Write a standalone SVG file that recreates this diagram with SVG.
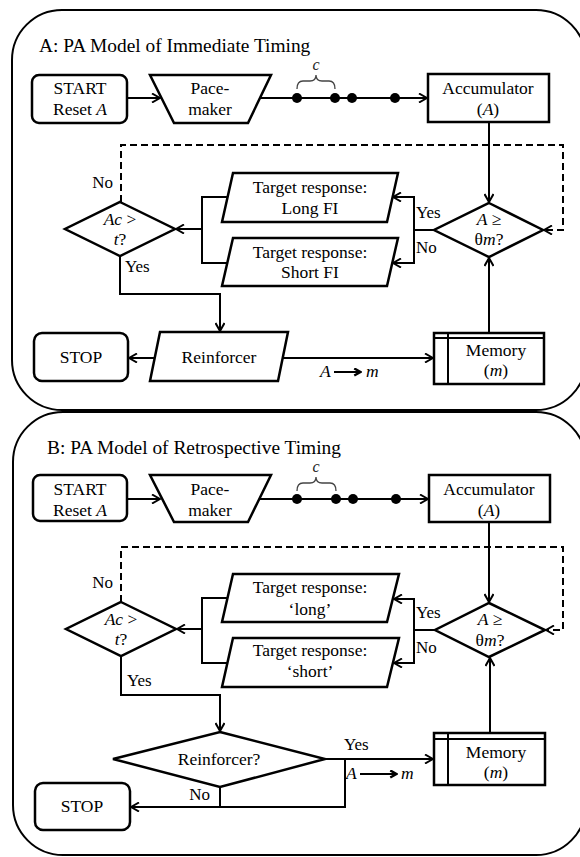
<svg xmlns="http://www.w3.org/2000/svg" width="580" height="857" viewBox="0 0 580 857" font-family="Liberation Serif, DejaVu Serif, Noto Serif, serif">
<defs>
<style>
text{font-size:17.5px;fill:#000;text-anchor:middle}
.title{font-size:19.4px;text-anchor:start}
.lbl{font-size:17px}
.st{text-anchor:start}
.en{text-anchor:end}
.i{font-style:italic}
.sym{font-style:italic;font-size:16px;fill:#222}
.shape{fill:#fff;stroke:#000;stroke-width:2.5}
.panel{fill:none;stroke:#000;stroke-width:2}
.wire{fill:none;stroke:#000;stroke-width:2}
.dash{fill:none;stroke:#000;stroke-width:2;stroke-dasharray:7 4}
.brace{fill:none;stroke:#444;stroke-width:1.3}
.dot{fill:#000}
</style>
<marker id="arr" viewBox="0 0 10 10" refX="9" refY="5" markerWidth="10" markerHeight="10" markerUnits="userSpaceOnUse" orient="auto">
<path d="M1,0.5 L9,5 L1,9.5" fill="none" stroke="#000" stroke-width="2"/>
</marker>
<marker id="arrb" viewBox="0 0 10 10" refX="9" refY="5" markerWidth="9" markerHeight="9" markerUnits="userSpaceOnUse" orient="auto">
<path d="M1.5,1 L8.5,5 L1.5,9" fill="none" stroke="#000" stroke-width="2.6"/>
</marker>
</defs>

<!-- ===== Panel A ===== -->
<rect id="panelA" class="panel" x="12" y="10" width="574" height="400" rx="50"/>
<text class="title" x="39" y="52">A: PA Model of Immediate Timing</text>

<g id="connectorsA">
<path class="wire" d="M127,98 H160" marker-end="url(#arr)"/>
<path class="wire" d="M260,98 H427" marker-end="url(#arr)"/>
<path class="wire" d="M489,122 V202" marker-end="url(#arr)"/>
<path class="dash" d="M121,202 V145 H563 V230 H544" marker-end="url(#arr)"/>
<path class="wire" d="M434,230 H414 V197 H393" marker-end="url(#arr)"/>
<path class="wire" d="M414,230 V263 H393" marker-end="url(#arr)"/>
<path class="wire" d="M228,197 H202 V263 H228"/>
<path class="wire" d="M202,229 H176" marker-end="url(#arr)"/>
<path class="wire" d="M120,256 V294 H220 V331" marker-end="url(#arr)"/>
<path class="wire" d="M155,358 H129" marker-end="url(#arr)"/>
<path class="wire" d="M283,358 H433" marker-end="url(#arr)"/>
<path class="wire" d="M489,333 V258" marker-end="url(#arr)"/>
<path class="wire" d="M334,372 H361" stroke-width="2.6" marker-end="url(#arrb)"/>
<circle class="dot" cx="297" cy="98" r="5"/>
<circle class="dot" cx="335" cy="98" r="5"/>
<circle class="dot" cx="352" cy="98" r="5"/>
<circle class="dot" cx="395" cy="98" r="5"/>
<path class="brace" d="M297,89 Q297,81 303,81 L310,81 Q316,81 316,75 Q316,81 322,81 L329,81 Q335,81 335,89"/>
<text class="sym" x="316" y="70">c</text>
<text class="lbl en" x="113" y="188">No</text>
<text class="lbl st" x="125" y="272">Yes</text>
<text class="lbl st" x="416" y="218">Yes</text>
<text class="lbl st" x="416" y="253">No</text>
<text class="st i" x="320" y="377">A</text>
<text class="st i" x="366" y="377">m</text>
</g>

<g id="startA">
<rect class="shape" x="32" y="75" width="95" height="48" rx="7"/>
<text x="80" y="94">START</text>
<text x="80" y="115">Reset <tspan class="i">A</tspan></text>
</g>
<g id="pacemakerA">
<polygon class="shape" points="150,75 271,75 248,123 174,123"/>
<text x="210" y="94">Pace-</text>
<text x="210" y="115">maker</text>
</g>
<g id="accumulatorA">
<rect class="shape" x="428" y="74" width="121" height="48"/>
<text x="488" y="94">Accumulator</text>
<text x="488" y="115">(<tspan class="i">A</tspan>)</text>
</g>
<g id="compareA">
<polygon class="shape" points="489,203 543,230 489,257 434,230"/>
<text x="489" y="225" font-size="17"><tspan class="i">A</tspan> ≥</text>
<text x="489" y="245" font-size="17">θ<tspan class="i">m</tspan>?</text>
</g>
<g id="checkA">
<polygon class="shape" points="120,202 175,229 120,256 65,229"/>
<text x="120" y="225" font-size="17"><tspan class="i">Ac</tspan> &gt;</text>
<text x="120" y="245" font-size="17"><tspan class="i">t</tspan>?</text>
</g>
<g id="longA">
<polygon class="shape" points="233,173 398,173 387,222 222,222"/>
<text x="310" y="193">Target response:</text>
<text x="310" y="214">Long FI</text>
</g>
<g id="shortA">
<polygon class="shape" points="233,238 398,238 387,286 222,286"/>
<text x="310" y="258">Target response:</text>
<text x="310" y="278">Short FI</text>
</g>
<g id="reinforcerA">
<polygon class="shape" points="160,332 288,332 278,381 150,381"/>
<text x="219" y="363">Reinforcer</text>
</g>
<g id="stopA">
<rect class="shape" x="34" y="333" width="94" height="48" rx="8"/>
<text x="81" y="363">STOP</text>
</g>
<g id="memoryA">
<rect class="shape" x="434" y="333" width="110" height="51"/>
<path class="wire" d="M448,333 V384 M434,338 H544" stroke-width="2.5"/>
<text x="496" y="356">Memory</text>
<text x="496" y="376">(<tspan class="i">m</tspan>)</text>
</g>

<!-- ===== Panel B ===== -->
<rect id="panelB" class="panel" x="13" y="412" width="573" height="443" rx="50"/>
<text class="title" x="47" y="454">B: PA Model of Retrospective Timing</text>

<g id="connectorsB">
<path class="wire" d="M127,499 H160" marker-end="url(#arr)"/>
<path class="wire" d="M260,499 H428" marker-end="url(#arr)"/>
<path class="wire" d="M489,522 V602" marker-end="url(#arr)"/>
<path class="dash" d="M121,602 V547 H563 V630 H546" marker-end="url(#arr)"/>
<path class="wire" d="M435,630 H414 V599 H394" marker-end="url(#arr)"/>
<path class="wire" d="M414,630 V663 H394" marker-end="url(#arr)"/>
<path class="wire" d="M228,598 H202 V663 H228"/>
<path class="wire" d="M202,629 H177" marker-end="url(#arr)"/>
<path class="wire" d="M121,656 V695 H220 V731" marker-end="url(#arr)"/>
<path class="wire" d="M325,759 H433" marker-end="url(#arr)"/>
<path class="wire" d="M345,759 V807 H131" marker-end="url(#arr)"/>
<path class="wire" d="M220,787 V807"/>
<path class="wire" d="M490,733 V658" marker-end="url(#arr)"/>
<path class="wire" d="M360,774 H397" stroke-width="2.6" marker-end="url(#arrb)"/>
<circle class="dot" cx="297" cy="499" r="5"/>
<circle class="dot" cx="336" cy="499" r="5"/>
<circle class="dot" cx="353" cy="499" r="5"/>
<circle class="dot" cx="396" cy="499" r="5"/>
<path class="brace" d="M297,491 Q297,483 303,483 L310,483 Q316,483 316,477 Q316,483 322,483 L330,483 Q336,483 336,491"/>
<text class="sym" x="316" y="472">c</text>
<text class="lbl en" x="113" y="588">No</text>
<text class="lbl st" x="127" y="686">Yes</text>
<text class="lbl st" x="416" y="618">Yes</text>
<text class="lbl st" x="416" y="653">No</text>
<text class="lbl st" x="344" y="750">Yes</text>
<text class="lbl en" x="210" y="800">No</text>
<text class="st i" x="346" y="779">A</text>
<text class="st i" x="401" y="779">m</text>
</g>

<g id="startB">
<rect class="shape" x="33" y="475" width="94" height="46" rx="7"/>
<text x="80" y="495">START</text>
<text x="80" y="516">Reset <tspan class="i">A</tspan></text>
</g>
<g id="pacemakerB">
<polygon class="shape" points="150,475 271,475 248,522 174,522"/>
<text x="210" y="495">Pace-</text>
<text x="210" y="516">maker</text>
</g>
<g id="accumulatorB">
<rect class="shape" x="429" y="475" width="121" height="47"/>
<text x="489" y="495">Accumulator</text>
<text x="489" y="516">(<tspan class="i">A</tspan>)</text>
</g>
<g id="compareB">
<polygon class="shape" points="489,603 545,630 489,657 435,630"/>
<text x="490" y="625" font-size="17"><tspan class="i">A</tspan> ≥</text>
<text x="490" y="646" font-size="17">θ<tspan class="i">m</tspan>?</text>
</g>
<g id="checkB">
<polygon class="shape" points="121,602 176,629 121,656 66,629"/>
<text x="121" y="625" font-size="17"><tspan class="i">Ac</tspan> &gt;</text>
<text x="121" y="645" font-size="17"><tspan class="i">t</tspan>?</text>
</g>
<g id="longB">
<polygon class="shape" points="233,574 399,574 387,622 222,622"/>
<text x="310" y="593">Target response:</text>
<text x="310" y="615">‘long’</text>
</g>
<g id="shortB">
<polygon class="shape" points="233,638 399,638 387,687 222,687"/>
<text x="310" y="656">Target response:</text>
<text x="310" y="677">‘short’</text>
</g>
<g id="reinforcerB">
<polygon class="shape" points="220,732 325,759 220,787 113,759"/>
<text x="219" y="765">Reinforcer?</text>
</g>
<g id="stopB">
<rect class="shape" x="35" y="783" width="95" height="47" rx="8"/>
<text x="82" y="812">STOP</text>
</g>
<g id="memoryB">
<rect class="shape" x="434" y="733" width="111" height="52"/>
<path class="wire" d="M448,733 V785 M434,739 H545" stroke-width="2.5"/>
<text x="496" y="758">Memory</text>
<text x="496" y="778">(<tspan class="i">m</tspan>)</text>
</g>
</svg>
